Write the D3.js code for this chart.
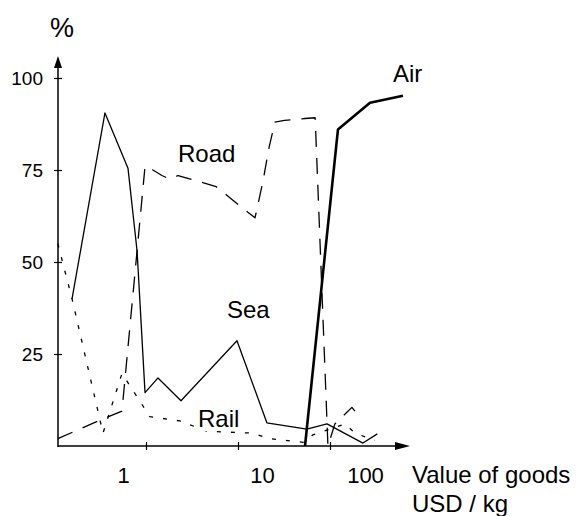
<!DOCTYPE html>
<html>
<head>
    <meta charset="utf-8">
    <title>Modal split by value of goods</title>
    <style>
        body { margin: 0; background: #fff; }
        text { font-family: Arial, "Liberation Sans", sans-serif; fill: #000; }
    </style>
    <script src="https://cdn.jsdelivr.net/npm/d3@7/dist/d3.min.js"></script>
</head>
<body>
<script>

    // values: x = USD per kg, y = share in %
    var airX  = [53.5, 122, 272, 621]
    var airY  = [0, 86, 93.3, 95.2]

    var roadX = [0.11, 0.316, 0.548, 0.976, 1.05, 1.19, 1.49, 1.82, 2.23, 5.77, 8.6, 12.8, 15.3, 16.1, 18.7, 21.7, 25.2, 32, 53.5, 69, 95, 113, 173, 201]
    var roadY = [2, 7, 9.5, 76, 76, 75, 73.5, 72.5, 73.5, 70.5, 67, 63.5, 62, 64.5, 72, 81, 88, 88.5, 89, 89.2, 0, 6, 10.5, 8.5]

    var seaX  = [0.157, 0.358, 0.637, 0.8, 0.976, 1.35, 2.4, 9.75, 20.6, 56, 92.8, 228, 327]
    var seaY  = [40, 90.5, 75.5, 53, 14.5, 18.5, 12.3, 28.6, 6.3, 4.6, 6, 0.8, 3.3]

    var railX = [0.11, 0.157, 0.341, 0.548, 1.1, 2.34, 4.6, 14.5, 22, 51, 65, 146, 187, 307]
    var railY = [55, 40, 3.5, 19.7, 8, 6.8, 4, 3.5, 2, 1, 3, 6, 3.5, 1.5]

    var xTicks = [1, 10, 100]
    var xTickLabels = ['1', '10', '100']
    var yTicks = [25, 50, 75, 100]

    var width = 581,
        height = 516

    var svg = d3.select('body').append('svg')
        .attr('width', width)
        .attr('height', height)

    var x = d3.scaleLog().domain([1, 100]).range([146, 330])
    var y = d3.scaleLinear().domain([0, 100]).range([446, 78])

    var x0 = 58, y0 = 446

    // axes lines with arrows
    svg.append('line')
        .attr('x1', x0).attr('y1', y0 + 1)
        .attr('x2', x0).attr('y2', 62)
        .attr('stroke', '#000').attr('stroke-width', 1.5)
    svg.append('path')
        .attr('d', 'M' + x0 + ',56 L' + (x0 - 4) + ',68 L' + (x0 + 4) + ',68 Z')
        .attr('fill', '#000')

    svg.append('line')
        .attr('x1', x0).attr('y1', y0)
        .attr('x2', 398).attr('y2', y0)
        .attr('stroke', '#000').attr('stroke-width', 1.5)
    svg.append('path')
        .attr('d', 'M410,' + y0 + ' L395,' + (y0 - 4) + ' L395,' + (y0 + 4) + ' Z')
        .attr('fill', '#000')

    // y axis ticks and labels
    var yAxis = svg.append('g')
        .attr('transform', 'translate(' + x0 + ',0)')
        .call(d3.axisLeft(y).tickValues(yTicks).tickSize(4).tickPadding(11))
    yAxis.select('.domain').remove()
    yAxis.selectAll('.tick line').attr('x1', -4).attr('x2', 4).attr('stroke-width', 1.2)
    yAxis.selectAll('.tick text')
        .style('font-size', '19px')
        .style('font-family', 'Arial, "Liberation Sans", sans-serif')

    // x axis ticks and labels (labels sit a bit off their ticks in the original)
    var labelShift = [-23, 24, 35]
    var xAxis = svg.append('g')
        .attr('transform', 'translate(0,' + y0 + ')')
        .call(d3.axisBottom(x).tickValues(xTicks)
            .tickFormat(function (d, i) { return xTickLabels[i] })
            .tickSize(4).tickPadding(17))
    xAxis.select('.domain').remove()
    xAxis.selectAll('.tick line').attr('y1', -4).attr('y2', 4).attr('stroke-width', 1.2)
    xAxis.selectAll('.tick text')
        .attr('x', function (d, i) { return labelShift[i] })
        .style('font-size', '22px')
        .style('font-family', 'Arial, "Liberation Sans", sans-serif')

    // series
    function pts(xs, ys) {
        return xs.map(function (v, i) { return [v, ys[i]] })
    }
    var line = d3.line()
        .x(function (d) { return x(d[0]) })
        .y(function (d) { return y(d[1]) })

    var series = [
        {name: 'Rail', data: pts(railX, railY), width: 1.3, dash: '4,10'},
        {name: 'Road', data: pts(roadX, roadY), width: 1.3, dash: '16,11'},
        {name: 'Sea',  data: pts(seaX, seaY),  width: 1.3, dash: null},
        {name: 'Air',  data: pts(airX, airY),  width: 2.6, dash: null}
    ]

    svg.selectAll('path.series')
        .data(series)
        .enter().append('path')
        .attr('class', 'series')
        .attr('d', function (d) { return line(d.data) })
        .attr('fill', 'none')
        .attr('stroke', '#000')
        .attr('stroke-width', function (d) { return d.width })
        .attr('stroke-dasharray', function (d) { return d.dash })
        .attr('stroke-linejoin', 'round')

    // labels
    svg.append('rect')
        .attr('x', 196).attr('y', 404)
        .attr('width', 48).attr('height', 27)
        .attr('fill', '#fff')

    var labels = [
        {t: '%', x: 50, y: 37, s: 27},
        {t: 'Air', x: 393, y: 82, s: 24},
        {t: 'Road', x: 178, y: 162, s: 24},
        {t: 'Sea', x: 227, y: 318, s: 24},
        {t: 'Rail', x: 198, y: 427, s: 24},
        {t: 'Value of goods', x: 412, y: 483, s: 24},
        {t: 'USD / kg', x: 412, y: 512, s: 24}
    ]
    svg.selectAll('text.lbl')
        .data(labels)
        .enter().append('text')
        .attr('class', 'lbl')
        .attr('x', function (d) { return d.x })
        .attr('y', function (d) { return d.y })
        .style('font-size', function (d) { return d.s + 'px' })
        .text(function (d) { return d.t })

</script>
</body>
</html>
